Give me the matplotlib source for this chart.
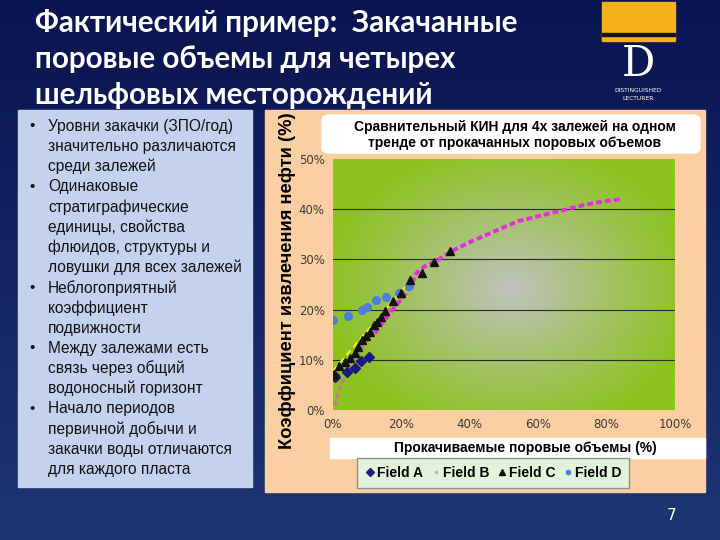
import matplotlib.pyplot as plt
import numpy as np
from matplotlib.patches import Rectangle, FancyBboxPatch
from matplotlib.lines import Line2D
from matplotlib.colors import to_rgb

W, H = 720, 540

# --- data (percent) ---
field_a_x = [0.3, 0.5, 4.2, 6.5, 8.3, 10.5]
field_a_y = [7.0, 6.5, 7.5, 8.3, 9.7, 10.6]

field_b_x = [0.5, 2.0, 4.4, 6.8, 9.3, 11.7, 14.6, 17.5, 20.5]
field_b_y = [1.0, 4.5, 8.0, 10.6, 13.3, 15.6, 18.0, 20.6, 22.8]

field_c_x = [0.3, 1.7, 3.4, 4.9, 6.3, 7.3, 8.6, 9.6, 10.9, 12.0, 12.9, 14.0,
             15.1, 17.6, 20.0, 22.6, 25.9, 29.6, 34.1]
field_c_y = [7.0, 8.8, 9.5, 10.3, 11.4, 12.5, 14.0, 14.8, 15.5, 17.0, 17.6, 18.5,
             19.7, 21.7, 23.3, 25.9, 27.3, 29.5, 31.7]

field_d_x = [0.0, 4.3, 8.5, 9.9, 12.7, 15.6, 19.2, 22.2]
field_d_y = [18.0, 18.7, 20.0, 20.6, 21.9, 22.5, 23.4, 24.8]

trend_x = [12.2, 17.0, 21.0, 22.9, 24.4, 26.8, 30.7, 34.6, 40.5, 48.3, 54.1,
           60.0, 67.8, 73.7, 79.5, 84.4]
trend_y = [15.3, 19.6, 22.9, 24.9, 27.3, 28.6, 29.9, 31.6, 33.6, 35.9, 37.6,
           38.6, 39.9, 40.9, 41.6, 42.0]

c_trend_x = [0.0, 21.0]
c_trend_y = [7.8, 24.5]

y_ticks = [0, 10, 20, 30, 40, 50]
x_ticks = [0, 20, 40, 60, 80, 100]

title_lines = ["Фактический пример:  Закачанные",
               "поровые объемы для четырех",
               "шельфовых месторождений"]

bullets = [
    ["Уровни закачки (ЗПО/год)", "значительно различаются", "среди залежей"],
    ["Одинаковые", "стратиграфические", "единицы, свойства",
     "флюидов, структуры и", "ловушки для всех залежей"],
    ["Неблогоприятный", "коэффициент", "подвижности"],
    ["Между залежами есть", "связь через общий", "водоносный горизонт"],
    ["Начало периодов", "первичной добычи и", "закачки воды отличаются",
     "для каждого пласта"],
]


def fx(px):
    return px / W


def fy(py):
    return 1 - py / H


def box(x0, y0, x1, y1):
    return [fx(x0), fy(y1), fx(x1) - fx(x0), fy(y0) - fy(y1)]


def rect(x0, y0, x1, y1, color):
    fig.patches.append(Rectangle((fx(x0), fy(y1)), fx(x1) - fx(x0), fy(y0) - fy(y1),
                                 transform=fig.transFigure, color=color, zorder=1))


fig = plt.figure(figsize=(7.2, 5.4), dpi=100)

# slide background
bg = fig.add_axes([0, 0, 1, 1], zorder=-1)
top, bot = np.array(to_rgb('#0a1450')), np.array(to_rgb('#1c3674'))
t = np.linspace(0, 1, 256)[:, None]
grad = top * (1 - t[..., None]) + bot * t[..., None]
bg.imshow(np.repeat(grad, 4, axis=1), aspect='auto', extent=[0, 1, 0, 1])
bg.set_xlim(0, 1)
bg.set_ylim(0, 1)
bg.axis('off')

# title
for i, line in enumerate(title_lines):
    fig.text(fx(35), fy(23 + i * 36), line, color='white', fontsize=21.3,
             fontweight='bold', family='Lato', va='center', ha='left')

# logo
rect(602, 2, 675, 41, '#f4b11c')
rect(602, 33, 675, 36, '#1a1020')
fig.text(fx(638), fy(64), "D", color='white', fontsize=30, family='DejaVu Serif',
         ha='center', va='center')
fig.text(fx(638), fy(91), "DISTINGUISHED", color='white', fontsize=4.3, ha='center', va='center')
fig.text(fx(638), fy(99), "LECTURER", color='white', fontsize=4.3, ha='center', va='center')

# left panel
rect(18, 110, 252, 487, '#c5d2ef')
row = 0
for group in bullets:
    fig.text(fx(29), fy(126 + row * 20.2), "•", fontsize=11, family='Liberation Sans',
             color='#111111', va='center')
    for line in group:
        fig.text(fx(48), fy(126 + row * 20.2), line, fontsize=11.2, family='Liberation Sans',
                 color='#111111', va='center')
        row += 1

# chart panel
rect(265, 110, 705, 492, '#fccfa2')
fig.patches.append(FancyBboxPatch((fx(322), fy(153)), fx(700) - fx(322), fy(115) - fy(153),
                                  boxstyle='round,pad=0,rounding_size=0.01',
                                  transform=fig.transFigure, color='white', zorder=1))
fig.text(fx(515), fy(127), "Сравнительный КИН для 4х залежей на одном",
         fontsize=10, fontweight='bold', family='Liberation Sans', ha='center', va='center')
fig.text(fx(515), fy(143), "тренде от прокачанных поровых объемов",
         fontsize=10, fontweight='bold', family='Liberation Sans', ha='center', va='center')
rect(330, 438, 705, 458, 'white')
fig.text(fx(525), fy(448), "Прокачиваемые поровые объемы (%)", fontsize=10,
         fontweight='bold', family='Liberation Sans', ha='center', va='center')
fig.text(fx(288), fy(281), "Коэффициент извлечения нефти (%)", fontsize=13.2,
         fontweight='bold', family='Liberation Sans', ha='center', va='center', rotation=90)

# plot area
ax = fig.add_axes(box(333, 159, 675, 410), zorder=2)
gx, gy = np.meshgrid(np.linspace(0, 100, 200), np.linspace(0, 50, 120))
d = np.sqrt(((gx - 52) / 55) ** 2 + ((gy - 24) / 30) ** 2)
d = np.clip(d, 0, 1) ** 0.9
green, grey = np.array(to_rgb('#8cc21e')), np.array(to_rgb('#c2c2c2'))
img = grey * (1 - d[..., None]) + green * d[..., None]
ax.imshow(img, extent=[0, 100, 0, 50], origin='lower', aspect='auto', zorder=0)
ax.set_xlim(0, 100)
ax.set_ylim(0, 50)
for v in y_ticks[1:-1]:
    ax.axhline(v, color='#2a2a2a', lw=0.8, zorder=1)
ax.set_yticks(y_ticks)
ax.set_yticklabels([f"{v}%" for v in y_ticks])
ax.set_xticks(x_ticks)
ax.set_xticklabels([f"{v}%" for v in x_ticks])
ax.tick_params(length=0, labelsize=8.5, colors='#3a3a3a', pad=6)
for s in ax.spines.values():
    s.set_visible(False)

ax.plot(c_trend_x, c_trend_y, color='#f2f200', lw=1.5, ls=(0, (3, 2)), zorder=2)
ax.plot(field_b_x, field_b_y, color='#c07890', lw=2.8, ls=(0, (1, 1)), zorder=2)
ax.plot(trend_x, trend_y, color='#e82ae0', lw=2.8, ls=(0, (1.5, 0.8)), zorder=3)
ax.plot(field_d_x, field_d_y, 'o', color='#4a80dc', ms=5.5, zorder=4)
ax.plot(field_a_x, field_a_y, 'D', color='#1c1a80', ms=5, zorder=5)
ax.plot(field_c_x, field_c_y, '^', color='#111111', ms=6, zorder=5)

handles = [
    Line2D([], [], marker='D', color='#1c1a80', ls='none', ms=4),
    Line2D([], [], marker='s', color='#c8b0b8', ls='none', ms=2),
    Line2D([], [], marker='^', color='#111111', ls='none', ms=5),
    Line2D([], [], marker='o', color='#4a80dc', ls='none', ms=3),
]
leg = fig.legend(handles, ["Field A", "Field B", "Field C", "Field D"], ncol=4,
                 loc='center', bbox_to_anchor=(fx(493), fy(473)), frameon=True,
                 fancybox=False, handletextpad=0.1, columnspacing=0.5,
                 handlelength=0.8, borderpad=0.55,
                 prop={'family': 'Liberation Sans', 'size': 10, 'weight': 'bold'})
leg.set_zorder(3)
leg.get_frame().set_facecolor('#e1f3da')
leg.get_frame().set_edgecolor('#909090')
leg.get_frame().set_alpha(1)

fig.text(fx(672), fy(515), "7", color='white', fontsize=11, ha='center', va='center')

fig.savefig('out.png', dpi=100)
